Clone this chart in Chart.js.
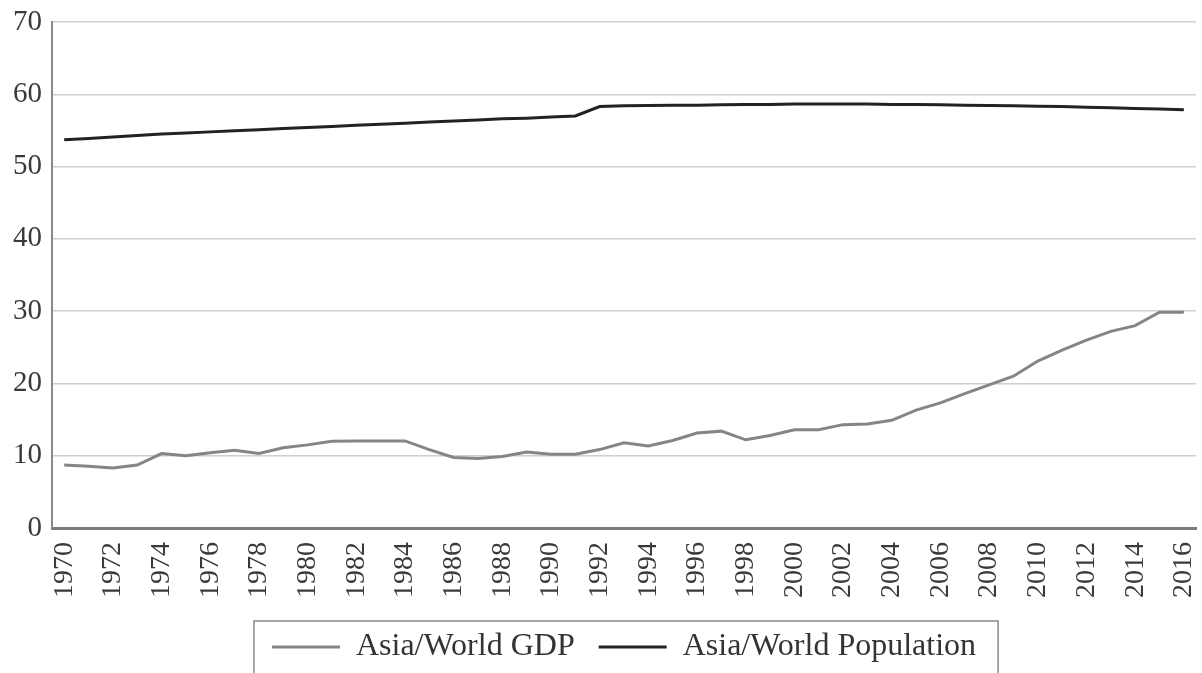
<!DOCTYPE html>
<html>
<head>
<meta charset="utf-8">
<script src="https://cdn.jsdelivr.net/npm/chart.js@4/dist/chart.umd.min.js"></script>
<style>
    html, body { margin: 0; padding: 0; background: #fff; }
    #wrap { width: 1202px; height: 673px; }
</style>
</head>
<body>
<div id="wrap"><canvas id="chart" width="1202" height="673"></canvas></div>
<script>
// Data
const years = [];
for (let y = 1970; y <= 2016; y++) years.push(String(y));

const gdpShare = [
    8.7, 8.55, 8.3, 8.7, 10.3, 10.0, 10.4, 10.75, 10.3, 11.1,
    11.5, 12.0, 12.05, 12.05, 12.05, 10.85, 9.75, 9.6, 9.9, 10.5,
    10.2, 10.2, 10.85, 11.8, 11.35, 12.1, 13.15, 13.4, 12.2, 12.8,
    13.6, 13.6, 14.3, 14.4, 14.9, 16.3, 17.3, 18.6, 19.8, 21.0,
    23.1, 24.6, 26.0, 27.2, 28.0, 29.85, 29.85
];

const popShare = [
    53.7, 53.9, 54.1, 54.3, 54.5, 54.65, 54.8, 54.95, 55.1, 55.25,
    55.4, 55.55, 55.7, 55.85, 56.0, 56.15, 56.3, 56.45, 56.6, 56.7,
    56.85, 57.0, 58.3, 58.4, 58.45, 58.5, 58.5, 58.55, 58.6, 58.6,
    58.65, 58.65, 58.65, 58.65, 58.6, 58.6, 58.55, 58.5, 58.45, 58.4,
    58.35, 58.3, 58.2, 58.15, 58.05, 57.95, 57.85
];

const yTicks = [0, 10, 20, 30, 40, 50, 60, 70];

const serif = "'Liberation Serif', 'DejaVu Serif', serif";

// Box round the legend, open at the bottom like the original
const legendFrame = {
    id: 'legendFrame',
    afterDraw(chart) {
        const lg = chart.legend;
        if (!lg || !lg.legendHitBoxes.length) return;
        const boxes = lg.legendHitBoxes;
        const left = Math.min(...boxes.map(b => b.left)) - 18;
        const right = Math.max(...boxes.map(b => b.left + b.width)) + 22;
        const top = boxes[0].top - 10;
        const ctx = chart.ctx;
        ctx.save();
        ctx.strokeStyle = '#8a8a8a';
        ctx.lineWidth = 1.5;
        ctx.strokeRect(left, top, right - left, 200);
        ctx.restore();
    }
};

new Chart(document.getElementById('chart'), {
    type: 'line',
    data: {
        labels: years,
        datasets: [{
            label: 'Asia/World GDP',
            data: gdpShare,
            borderColor: '#858585',
            backgroundColor: '#858585',
            borderWidth: 3,
            pointRadius: 0,
            tension: 0
        }, {
            label: 'Asia/World Population',
            data: popShare,
            borderColor: '#222222',
            backgroundColor: '#222222',
            borderWidth: 3,
            pointRadius: 0,
            tension: 0
        }]
    },
    options: {
        responsive: false,
        animation: false,
        layout: { padding: { top: 22, right: 6, left: 0, bottom: 0 } },
        scales: {
            x: {
                offset: true,
                grid: { display: false },
                border: { color: '#7a7a7a', width: 3 },
                ticks: {
                    autoSkip: false,
                    minRotation: 90,
                    maxRotation: 90,
                    padding: 6,
                    color: '#3a3a3a',
                    font: { family: serif, size: 28 },
                    callback: function(val, i) {
                        return i % 2 === 0 ? this.getLabelForValue(val) : '';
                    }
                },
                afterFit(scale) {
                    scale.height = 79;
                    scale.paddingLeft = 0;
                    scale.paddingRight = 0;
                }
            },
            y: {
                min: 0,
                max: 70,
                afterBuildTicks(scale) {
                    scale.ticks = yTicks.map(v => ({ value: v }));
                },
                grid: { color: '#cfcfcf', lineWidth: 1.5, drawTicks: false },
                border: { color: '#8a8a8a', width: 2 },
                ticks: {
                    padding: 10,
                    color: '#3a3a3a',
                    font: { family: serif, size: 29 }
                },
                afterFit(scale) {
                    scale.width = 52;
                    scale.paddingTop = 0;
                    scale.paddingBottom = 0;
                }
            }
        },
        plugins: {
            legend: {
                position: 'bottom',
                fullSize: false,
                labels: {
                    boxWidth: 68,
                    boxHeight: 3,
                    padding: 24,
                    color: '#333333',
                    font: { family: serif, size: 32 },
                    generateLabels(chart) {
                        return Chart.defaults.plugins.legend.labels.generateLabels(chart)
                            .map(item => Object.assign(item, { lineWidth: 0 }));
                    }
                }
            },
            tooltip: { enabled: false }
        }
    },
    plugins: [legendFrame]
});
</script>
</body>
</html>
